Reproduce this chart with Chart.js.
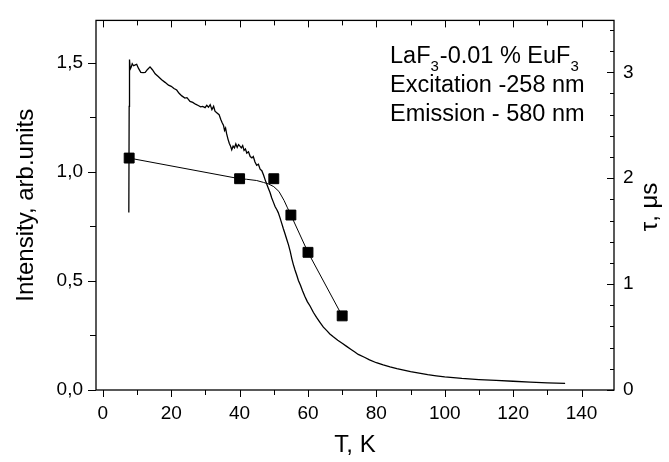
<!DOCTYPE html>
<html>
<head>
<meta charset="utf-8">
<title>LaF3-0.01 % EuF3</title>
<script src="https://cdn.jsdelivr.net/npm/chart.js@4.4.0/dist/chart.umd.min.js"></script>
<style>
    body { margin: 0; background: #fff; }
</style>
</head>
<body>
<canvas id="graficoIntensidad" width="669" height="462"></canvas>
<script>
// curva de intensidad
const curvaT = [7.6, 7.7, 7.75, 7.85, 8.0, 8.3, 8.6, 9.0, 9.5, 9.9, 10.4, 11.1, 11.8, 12.4, 13.0, 13.8, 14.5, 15.3, 16.2, 17.2,
    18.2, 19.2, 20.0, 20.8, 21.6, 22.3, 23.1, 24.0, 24.6, 25.5, 26.3, 27.1, 27.9, 28.6, 29.2, 29.9, 30.4, 30.9, 31.4, 31.9,
    32.4, 32.8, 33.4, 34.0, 34.5, 34.9, 35.3, 35.6, 35.9, 36.2, 36.6, 37.0, 37.3, 37.7, 38.1, 38.5, 38.9, 39.3, 39.7, 40.1,
    40.5, 40.9, 41.3, 41.7, 42.1, 42.6, 43.1, 43.6, 44.0, 44.5, 45.0, 45.5, 46.0, 46.5, 47.0, 47.5, 47.9, 48.4, 48.9, 49.4,
    49.9, 50.4, 50.9, 51.3, 51.8, 52.3, 52.8, 53.3, 53.8, 54.3, 54.8, 55.3, 55.7, 56.2, 56.7, 57.2, 57.8, 58.4, 59.1, 59.8,
    60.6, 61.6, 62.5, 63.5, 64.5, 65.5, 66.4, 67.4, 68.7, 70.0, 71.3, 72.5, 73.6, 74.7, 76.5, 78.0, 80.0, 82.0, 84.0, 86.0,
    88.0, 90.0, 92.5, 95.0, 97.5, 100, 105, 110, 115, 120, 125, 130, 135.2];
const curvaI = [0.813, 1.30, 1.46, 1.515, 1.47, 1.48, 1.495, 1.486, 1.49, 1.493, 1.475, 1.456, 1.455, 1.456, 1.468, 1.481, 1.468, 1.449, 1.437, 1.422,
    1.41, 1.397, 1.392, 1.382, 1.375, 1.36, 1.348, 1.338, 1.34, 1.323, 1.318, 1.31, 1.304, 1.298, 1.30, 1.294, 1.305, 1.296, 1.308, 1.285,
    1.30, 1.278, 1.27, 1.262, 1.24, 1.225, 1.212, 1.19, 1.2, 1.175, 1.15, 1.13, 1.12, 1.101, 1.118, 1.11, 1.128, 1.112, 1.125, 1.118,
    1.11, 1.12, 1.098, 1.105, 1.086, 1.092, 1.07, 1.064, 1.07, 1.045, 1.03, 1.035, 1.012, 1.005, 0.985, 0.962, 0.945, 0.925, 0.905, 0.88,
    0.86, 0.84, 0.826, 0.813, 0.79, 0.765, 0.739, 0.715, 0.69, 0.665, 0.635, 0.6, 0.576, 0.55, 0.527, 0.502, 0.48, 0.455, 0.429, 0.405,
    0.385, 0.355, 0.333, 0.31, 0.288, 0.272, 0.257, 0.244, 0.228, 0.214, 0.2, 0.187, 0.175, 0.163, 0.15, 0.138, 0.125, 0.115, 0.106, 0.098,
    0.091, 0.084, 0.077, 0.07, 0.065, 0.06, 0.053, 0.048, 0.044, 0.04, 0.036, 0.033, 0.03];

// tiempo de vida tau (cuadrados)
const tauT = [7.7, 40, 50, 55, 60, 70];
const tauV = [2.19, 1.995, 1.995, 1.652, 1.30, 0.70];

// linea de ajuste de tau
const ajusteT = [7.7, 40, 42, 45, 47, 48.5, 50, 51.5, 53, 54, 55, 60, 70];
const ajusteV = [2.19, 1.995, 1.99, 1.978, 1.96, 1.945, 1.92, 1.875, 1.79, 1.72, 1.652, 1.30, 0.70];

// marcas de los ejes
const ticksX = [0, 20, 40, 60, 80, 100, 120, 140];
const ticksXMenores = [10, 30, 50, 70, 90, 110, 130];
const ticksI = [0, 0.5, 1.0, 1.5];
const ticksIMenores = [0.25, 0.75, 1.25];
const ticksTau = [0, 1, 2, 3];
const ticksTauMenores = [0.2, 0.4, 0.6, 0.8, 1.2, 1.4, 1.6, 1.8, 2.2, 2.4, 2.6, 2.8, 3.2, 3.4];

const textoMuestra = ['LaF', '3', '-0.01 % EuF', '3'];
const textoLineas = ['Excitation -258 nm', 'Emission - 580 nm'];
const tituloTau = 'τ, μs';

const fuente = "'Liberation Sans', Arial, sans-serif";
Chart.defaults.font.family = fuente;
Chart.defaults.color = '#000';

const puntos = (xs, ys) => xs.map((x, i) => ({ x: x, y: ys[i] }));

// marco, marcas y textos que Chart.js no dibuja como queremos
const marcoYTextos = {
    id: 'marcoYTextos',
    afterDraw(chart) {
        const { ctx, chartArea: a, scales } = chart;
        ctx.save();
        ctx.strokeStyle = '#000';
        ctx.lineWidth = 1.3;
        ctx.strokeRect(a.left, a.top, a.right - a.left, a.bottom - a.top);

        ctx.lineWidth = 1;
        ctx.beginPath();
        const linea = (x1, y1, x2, y2) => { ctx.moveTo(x1, y1); ctx.lineTo(x2, y2); };
        ticksX.concat(ticksXMenores).forEach(v => {
            const x = Math.round(scales.x.getPixelForValue(v)) + 0.5;
            const largo = ticksX.includes(v) ? 7 : 5;
            linea(x, a.bottom, x, a.bottom + largo);
            linea(x, a.top, x, a.top + largo);
        });
        ticksI.concat(ticksIMenores).forEach(v => {
            const y = Math.round(scales.y.getPixelForValue(v)) + 0.5;
            const largo = ticksI.includes(v) ? 8 : 6;
            linea(a.left - largo, y, a.left, y);
        });
        ticksTau.concat(ticksTauMenores).forEach(v => {
            const y = Math.round(scales.y2.getPixelForValue(v)) + 0.5;
            const largo = ticksTau.includes(v) ? 7 : 4;
            linea(a.right - largo, y, a.right, y);
        });
        ctx.stroke();

        // leyenda de la muestra
        ctx.fillStyle = '#000';
        ctx.textBaseline = 'alphabetic';
        ctx.textAlign = 'left';
        let x = 390;
        textoMuestra.forEach((t, i) => {
            const sub = i % 2 === 1;
            ctx.font = (sub ? '15px ' : '23.5px ') + fuente;
            ctx.fillText(t, x, sub ? 71 : 63);
            x += ctx.measureText(t).width + (sub ? 1 : 0);
        });
        ctx.font = '23.5px ' + fuente;
        textoLineas.forEach((t, i) => ctx.fillText(t, 390, 92 + i * 29));

        // titulo del eje derecho, leido de abajo hacia arriba
        ctx.font = '24px ' + fuente;
        ctx.translate(650, 207);
        ctx.rotate(-Math.PI / 2);
        ctx.textAlign = 'center';
        ctx.textBaseline = 'middle';
        ctx.fillText(tituloTau, 0, 0);
        ctx.restore();
    }
};

const sinRejilla = { drawOnChartArea: false, color: 'rgba(0,0,0,0)', tickLength: 8 };

new Chart(document.getElementById('graficoIntensidad'), {
    type: 'scatter',
    data: {
        datasets: [{
            label: 'Intensity',
            data: puntos(curvaT, curvaI),
            yAxisID: 'y',
            showLine: true,
            pointRadius: 0,
            borderColor: '#000',
            borderWidth: 1.3,
            tension: 0
        }, {
            label: 'ajuste tau',
            data: puntos(ajusteT, ajusteV),
            yAxisID: 'y2',
            showLine: true,
            pointRadius: 0,
            borderColor: '#000',
            borderWidth: 1,
            tension: 0
        }, {
            label: 'tau',
            data: puntos(tauT, tauV),
            yAxisID: 'y2',
            showLine: false,
            pointStyle: 'rect',
            pointRadius: 7,
            backgroundColor: '#000',
            borderColor: '#000'
        }]
    },
    options: {
        responsive: false,
        animation: false,
        layout: { padding: { top: 8, left: 0, right: 0, bottom: 0 } },
        plugins: {
            legend: { display: false },
            tooltip: { enabled: false }
        },
        scales: {
            x: {
                type: 'linear',
                min: -2,
                max: 149.5,
                afterBuildTicks: s => { s.ticks = ticksX.map(v => ({ value: v })); },
                afterFit: s => { s.height = 72; },
                ticks: { font: { size: 19 }, padding: 4 },
                grid: sinRejilla,
                border: { display: false },
                title: { display: true, text: 'T, K', font: { size: 24 }, padding: { top: 0, bottom: 2 } }
            },
            y: {
                position: 'left',
                min: 0,
                max: 1.694,
                afterBuildTicks: s => { s.ticks = ticksI.map(v => ({ value: v })); },
                afterFit: s => { s.width = 96; },
                ticks: { font: { size: 19 }, padding: 5, callback: v => v.toFixed(1).replace('.', ',') },
                grid: sinRejilla,
                border: { display: false },
                title: { display: true, text: 'Intensity, arb.units', font: { size: 24 }, padding: { top: 12, bottom: 0 } }
            },
            y2: {
                position: 'right',
                min: 0,
                max: 3.49,
                afterBuildTicks: s => { s.ticks = ticksTau.map(v => ({ value: v })); },
                afterFit: s => { s.width = 55; },
                ticks: { font: { size: 19 }, padding: 9 },
                grid: { drawOnChartArea: false, drawTicks: false },
                border: { display: false }
            }
        }
    },
    plugins: [marcoYTextos]
});
</script>
</body>
</html>
